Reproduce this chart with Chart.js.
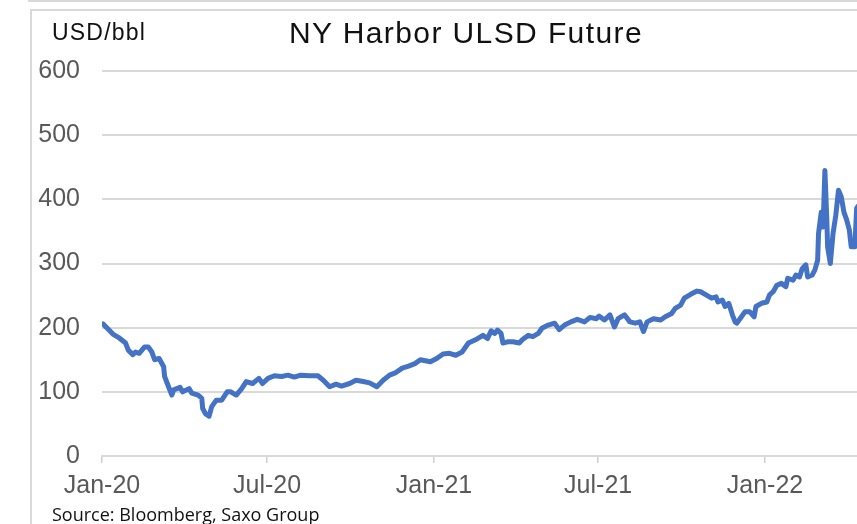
<!DOCTYPE html>
<html>
<head>
<meta charset="utf-8">
<script src="https://cdn.jsdelivr.net/npm/chart.js@4.4.0/dist/chart.umd.min.js"></script>
<style>
    body { margin: 0; background: #fff; }
    #wrap { position: relative; width: 857px; height: 524px; overflow: hidden; font-family: "Liberation Sans", Arial, sans-serif; }
    #prevBox { position: absolute; left: 28px; top: -10px; width: 900px; height: 10px; border-left: 2px solid #d9d9d9; border-bottom: 2px solid #d9d9d9; }
    #box { position: absolute; left: 30px; top: 9px; width: 900px; height: 600px; border-left: 2px solid #d9d9d9; border-top: 2px solid #d9d9d9; }
    #title { position: absolute; left: 466px; top: 16px; transform: translateX(-50%); font-size: 30px; letter-spacing: 1.4px; color: #111; white-space: nowrap; }
    #unit { position: absolute; left: 52px; top: 19px; font-size: 23px; letter-spacing: 1.2px; color: #111; }
    #source { position: absolute; left: 52px; top: 502px; font-family: "Open Sans", sans-serif; font-size: 18px; color: #111; white-space: nowrap; }
    canvas { position: absolute; left: 0; top: 0; }
</style>
</head>
<body>
<div id="wrap">
    <div id="prevBox"></div>
    <div id="box"></div>
    <canvas id="ulsdChart" width="857" height="524"></canvas>
    <div id="title">NY Harbor ULSD Future</div>
    <div id="unit">USD/bbl</div>
    <div id="source">Source: Bloomberg, Saxo Group</div>
</div>
<script>
const dates = [
    '2020-01-02', '2020-01-09', '2020-01-13', '2020-01-20', '2020-01-27', '2020-01-30', '2020-02-04', '2020-02-07',
    '2020-02-11', '2020-02-17', '2020-02-21', '2020-02-25', '2020-02-28', '2020-03-04', '2020-03-09', '2020-03-10',
    '2020-03-13', '2020-03-18', '2020-03-20', '2020-03-27', '2020-03-30', '2020-04-06', '2020-04-09', '2020-04-16',
    '2020-04-20', '2020-04-21', '2020-04-24', '2020-04-28', '2020-05-01', '2020-05-06', '2020-05-12', '2020-05-18',
    '2020-05-22', '2020-05-28', '2020-06-03', '2020-06-08', '2020-06-15', '2020-06-22', '2020-06-26', '2020-07-02',
    '2020-07-09', '2020-07-17', '2020-07-24', '2020-07-31', '2020-08-07', '2020-08-17', '2020-08-26', '2020-09-01',
    '2020-09-08', '2020-09-15', '2020-09-21', '2020-09-30', '2020-10-07', '2020-10-15', '2020-10-22', '2020-10-30',
    '2020-11-06', '2020-11-13', '2020-11-20', '2020-11-27', '2020-12-04', '2020-12-11', '2020-12-17', '2020-12-28',
    '2021-01-04', '2021-01-11', '2021-01-18', '2021-01-25', '2021-02-01', '2021-02-08', '2021-02-17', '2021-02-24',
    '2021-03-01', '2021-03-05', '2021-03-09', '2021-03-12', '2021-03-16', '2021-03-18', '2021-03-23', '2021-03-29',
    '2021-04-05', '2021-04-09', '2021-04-15', '2021-04-20', '2021-04-26', '2021-04-30', '2021-05-07', '2021-05-14',
    '2021-05-19', '2021-05-25', '2021-06-01', '2021-06-08', '2021-06-16', '2021-06-22', '2021-06-29', '2021-07-02',
    '2021-07-08', '2021-07-14', '2021-07-19', '2021-07-23', '2021-07-30', '2021-08-05', '2021-08-11', '2021-08-16',
    '2021-08-20', '2021-08-24', '2021-08-31', '2021-09-08', '2021-09-13', '2021-09-20', '2021-09-24', '2021-09-30',
    '2021-10-04', '2021-10-11', '2021-10-18', '2021-10-22', '2021-10-28', '2021-11-03', '2021-11-08', '2021-11-10',
    '2021-11-15', '2021-11-18', '2021-11-22', '2021-11-26', '2021-11-29', '2021-12-01', '2021-12-06', '2021-12-10',
    '2021-12-15', '2021-12-20', '2021-12-22', '2021-12-28', '2022-01-03', '2022-01-06', '2022-01-10', '2022-01-14',
    '2022-01-19', '2022-01-24', '2022-01-26', '2022-02-01', '2022-02-04', '2022-02-08', '2022-02-11', '2022-02-15',
    '2022-02-17', '2022-02-22', '2022-02-25', '2022-02-28', '2022-03-01', '2022-03-04', '2022-03-06', '2022-03-08',
    '2022-03-10', '2022-03-11', '2022-03-14', '2022-03-17', '2022-03-20', '2022-03-23', '2022-03-26', '2022-03-29',
    '2022-04-01', '2022-04-04', '2022-04-06', '2022-04-10', '2022-04-12', '2022-04-14'
];
const prices = [
    206, 196, 190, 184, 176, 165, 158, 162,
    160, 170, 170, 162, 150, 152, 139, 124,
    113, 95, 103, 107, 100, 105, 98, 95,
    90, 74, 66, 62, 77, 87, 87, 100,
    100, 95, 105, 116, 113, 121, 113, 121,
    125, 124, 126, 123, 126, 125, 125, 118,
    108, 112, 109, 113, 118, 116, 114, 108,
    118, 126, 130, 137, 140, 144, 150, 147,
    152, 159, 160, 157, 162, 176, 182, 188,
    183, 195, 191, 196, 191, 176, 178, 178,
    176, 182, 188, 186, 191, 199, 204, 207,
    197, 204, 209, 213, 209, 216, 214, 218,
    212, 220, 201, 214, 220, 209, 207, 209,
    194, 209, 214, 212, 217, 222, 230, 235,
    246, 252, 257, 256, 251, 246, 248, 240,
    243, 233, 238, 220, 209, 207, 217, 225,
    225, 217, 233, 238, 240, 251, 256, 266,
    269, 264, 277, 274, 282, 279, 292, 298,
    279, 282, 290, 305, 347, 380, 357, 445,
    373, 326, 300, 347, 375, 414, 404, 380,
    368, 352, 326, 326, 386, 390
];

// Axis ticks
const xTickDates = ['2020-01-01', '2020-07-01', '2021-01-01', '2021-07-01', '2022-01-01'];
const xTickLabels = ['Jan-20', 'Jul-20', 'Jan-21', 'Jul-21', 'Jan-22'];
const yTicks = [0, 100, 200, 300, 400, 500, 600];
const xStart = '2020-01-01';
const xEnd = '2022-04-12';

// days since 1 Jan 2020
function toDays(s) {
    return (Date.parse(s) - Date.parse(xStart)) / 86400000;
}

const points = dates.map((d, i) => ({ x: toDays(d), y: prices[i] }));
const tickFont = { family: '"Liberation Sans", Arial, sans-serif', size: 25 };

const ctx = document.getElementById('ulsdChart').getContext('2d');
new Chart(ctx, {
    type: 'line',
    data: {
        datasets: [{
            data: points,
            borderColor: '#4472C4',
            borderWidth: 5,
            borderJoinStyle: 'round',
            borderCapStyle: 'round',
            pointRadius: 0,
            tension: 0,
            fill: false,
        }]
    },
    options: {
        responsive: false,
        animation: false,
        layout: { padding: { top: 71, left: 0, right: 0, bottom: 0 } },
        plugins: {
            legend: { display: false },
            tooltip: { enabled: false },
        },
        scales: {
            x: {
                type: 'linear',
                min: toDays(xStart),
                max: toDays(xEnd) + 0.4,
                afterBuildTicks: (scale) => {
                    scale.ticks = xTickDates.map(d => ({ value: toDays(d) }));
                },
                afterFit: (scale) => { scale.height = 68; },
                grid: {
                    drawOnChartArea: false,
                    drawTicks: true,
                    tickLength: 7,
                    color: '#d0d0d0',
                    lineWidth: 1.5,
                },
                border: { display: true, color: '#d9d9d9', width: 2 },
                ticks: {
                    autoSkip: false,
                    maxRotation: 0,
                    padding: 8,
                    color: '#595959',
                    font: tickFont,
                    callback: (value, index) => xTickLabels[index],
                },
            },
            y: {
                min: yTicks[0],
                max: yTicks[yTicks.length - 1],
                afterBuildTicks: (scale) => {
                    scale.ticks = yTicks.map(v => ({ value: v }));
                },
                afterFit: (scale) => { scale.width = 102; },
                grid: {
                    drawTicks: false,
                    color: '#d9d9d9',
                    lineWidth: 2,
                },
                border: { display: false },
                ticks: {
                    padding: 22,
                    color: '#595959',
                    font: tickFont,
                },
            },
        },
    },
});
</script>
</body>
</html>
